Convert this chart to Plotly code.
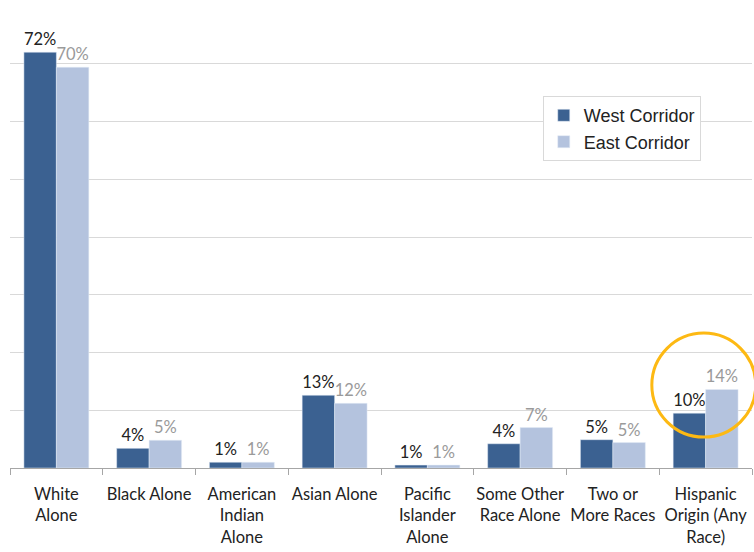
import plotly.graph_objects as go

categories = ["White<br>Alone", "Black Alone", "American<br>Indian<br>Alone", "Asian Alone",
              "Pacific<br>Islander<br>Alone", "Some Other<br>Race Alone", "Two or<br>More Races",
              "Hispanic<br>Origin (Any<br>Race)"]
west_values = [72.0, 3.4, 1.0, 12.6, 0.5, 4.2, 4.9, 9.5]
east_values = [69.4, 4.8, 1.0, 11.2, 0.5, 7.0, 4.4, 13.6]
west_labels = ["72%", "4%", "1%", "13%", "1%", "4%", "5%", "10%"]
east_labels = ["70%", "5%", "1%", "12%", "1%", "7%", "5%", "14%"]

FONT = "Lato, Carlito, Calibri, sans-serif"

fig = go.Figure()
fig.add_trace(go.Bar(x=categories, y=west_values, name="West Corridor",
                     marker_color="#3b6191", text=west_labels, textposition="outside",
                     textfont=dict(color="#222222", size=16.5, family=FONT),
                     legendgroup="w", cliponaxis=False))
fig.add_trace(go.Bar(x=categories, y=east_values, name="East Corridor",
                     marker_color="#b4c3de", text=east_labels, textposition="outside",
                     textfont=dict(color="#9a9a9a", size=16.5, family=FONT),
                     legendgroup="e", cliponaxis=False))

fig.update_layout(
    width=754, height=552,
    margin=dict(l=10, r=2, t=6, b=84),
    plot_bgcolor="white", paper_bgcolor="white",
    barmode="group", bargap=0.3, bargroupgap=0,
    font=dict(family=FONT, color="#222222", size=16.5),
    legend=dict(x=0.718, y=0.805, xanchor="left", yanchor="top",
                bordercolor="#d9d9d9", borderwidth=1, bgcolor="white",
                font=dict(family="Liberation Sans, Arial, sans-serif", size=18, color="#222222"),
                traceorder="grouped", tracegroupgap=0),
    xaxis=dict(showline=True, linecolor="#a6a6a6", linewidth=1, ticks="outside",
               tickson="boundaries", ticklen=6, tickcolor="#a6a6a6",
               ticklabelstandoff=11, tickangle=0, automargin=False,
               tickfont=dict(size=16.5, family=FONT, color="#222222")),
    yaxis=dict(range=[0, 80], dtick=10, showticklabels=False, showgrid=True,
               gridcolor="#d9d9d9", gridwidth=1, zeroline=False, showline=False,
               automargin=False),
    shapes=[dict(type="circle", xref="paper", yref="paper",
                 x0=0.865, x1=1.005, y0=0.067, y1=0.292,
                 line=dict(color="#fdb913", width=3))],
)

fig.write_html("out.html")
